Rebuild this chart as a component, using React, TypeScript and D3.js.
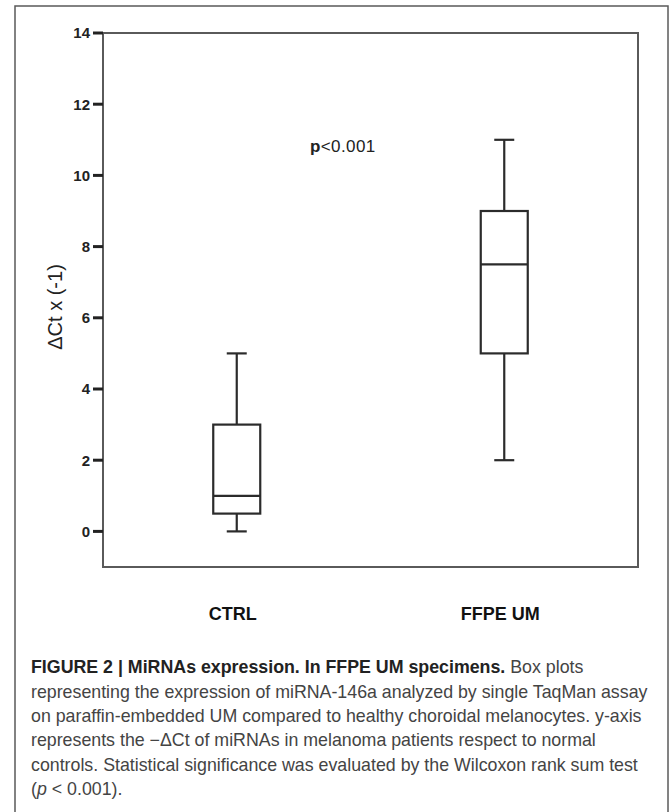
import React from "react";
import * as d3 from "d3";

const groups = ["CTRL", "FFPE UM"];
const whiskerMin = [0, 2];
const quartile1 = [0.5, 5];
const medians = [1, 7.5];
const quartile3 = [3, 9];
const whiskerMax = [5, 11];
const yTicks = [0, 2, 4, 6, 8, 10, 12, 14];

const captionBold = "FIGURE 2 | MiRNAs expression. In FFPE UM specimens.";
const captionLines = [
    " Box plots",
    "representing the expression of miRNA-146a analyzed by single TaqMan assay",
    "on paraffin-embedded UM compared to healthy choroidal melanocytes. y-axis",
    "represents the \u2212\u0394Ct of miRNAs in melanoma patients respect to normal",
    "controls. Statistical significance was evaluated by the Wilcoxon rank sum test",
];

const width = 670;
const height = 812;
const plot = {left: 103, right: 638, top: 33, bottom: 567};

export default function App() {
    const xScale = d3.scaleBand<string>()
        .domain(groups)
        .range([plot.left, plot.right])
        .padding(0);

    const yScale = d3.scaleLinear()
        .domain([-1, 14])
        .range([plot.bottom, plot.top]);

    const boxWidth = 47;
    const capWidth = 20;
    const lineColor = "#2b2b2b";
    const frameColor = "#5a5a5a";

    return (
        <svg
            width={width}
            height={height}
            style={{position: "absolute", left: 0, top: 0, background: "#fff"}}
        >
            <rect x={15} y={6} width={653} height={height + 10} fill="none" stroke={frameColor} strokeWidth={1.5}/>

            {/* plot frame */}
            <rect
                x={plot.left}
                y={plot.top}
                width={plot.right - plot.left}
                height={plot.bottom - plot.top}
                fill="none"
                stroke={frameColor}
                strokeWidth={2}
            />

            {/* y axis */}
            {yTicks.map((t) => (
                <g key={t}>
                    <line x1={93} x2={plot.left} y1={yScale(t)} y2={yScale(t)} stroke="#222" strokeWidth={3}/>
                    <text
                        x={90}
                        y={yScale(t)}
                        dy="0.36em"
                        textAnchor="end"
                        fontFamily="Liberation Sans, Arial, sans-serif"
                        fontWeight="bold"
                        fontSize={15}
                        fill="#222"
                    >
                        {t}
                    </text>
                </g>
            ))}
            <text
                transform={`translate(62, 307) rotate(-90)`}
                textAnchor="middle"
                fontFamily="Liberation Sans, Arial, sans-serif"
                fontSize={20}
                fill="#222"
            >
                {"\u0394Ct x (-1)"}
            </text>

            {/* boxes */}
            {groups.map((g, i) => {
                const cx = xScale(g)! + xScale.bandwidth() / 2;
                return (
                    <g key={g} stroke={lineColor} strokeWidth={2.2} fill="none">
                        <line x1={cx} x2={cx} y1={yScale(whiskerMax[i])} y2={yScale(quartile3[i])}/>
                        <line x1={cx} x2={cx} y1={yScale(quartile1[i])} y2={yScale(whiskerMin[i])}/>
                        <line x1={cx - capWidth / 2} x2={cx + capWidth / 2} y1={yScale(whiskerMax[i])} y2={yScale(whiskerMax[i])}/>
                        <line x1={cx - capWidth / 2} x2={cx + capWidth / 2} y1={yScale(whiskerMin[i])} y2={yScale(whiskerMin[i])}/>
                        <rect
                            x={cx - boxWidth / 2}
                            y={yScale(quartile3[i])}
                            width={boxWidth}
                            height={yScale(quartile1[i]) - yScale(quartile3[i])}
                            fill="#fff"
                        />
                        <line x1={cx - boxWidth / 2} x2={cx + boxWidth / 2} y1={yScale(medians[i])} y2={yScale(medians[i])}/>
                    </g>
                );
            })}

            {/* x labels */}
            {groups.map((g) => (
                <text
                    key={g}
                    x={xScale(g)! + xScale.bandwidth() / 2 - 4}
                    y={620}
                    textAnchor="middle"
                    fontFamily="Liberation Sans, Arial, sans-serif"
                    fontWeight="bold"
                    fontSize={18}
                    fill="#111"
                >
                    {g}
                </text>
            ))}

            <text x={310} y={152} fontFamily="Liberation Sans, Arial, sans-serif" fontSize={17} fill="#222" letterSpacing={0.4}>
                <tspan fontWeight="bold">p</tspan>{"<0.001"}
            </text>

            {/* caption */}
            <g fontFamily="Liberation Sans, Arial, sans-serif" fontSize={17.8} fill="#444">
                <text x={31} y={673}>
                    <tspan fontWeight="bold" fill="#222">{captionBold}</tspan>
                    <tspan>{captionLines[0]}</tspan>
                </text>
                {captionLines.slice(1).map((line, i) => (
                    <text key={i} x={31} y={697.5 + i * 24.4}>{line}</text>
                ))}
                <text x={31} y={795}>
                    (<tspan fontStyle="italic">p</tspan> {"< 0.001)."}
                </text>
            </g>
        </svg>
    );
}
